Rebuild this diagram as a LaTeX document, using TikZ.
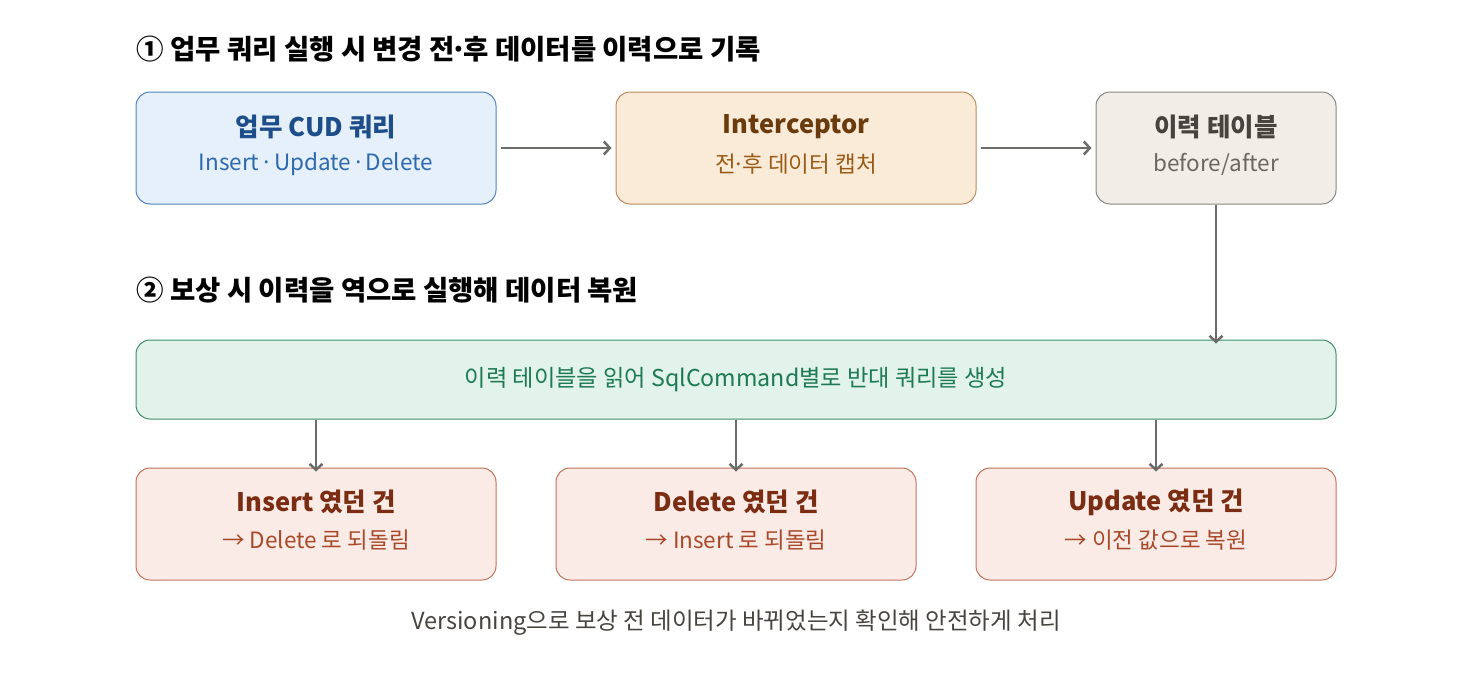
\documentclass[tikz,border=0pt]{standalone}
\usepackage{fontspec}
\setmainfont{Noto Sans CJK KR}
\usetikzlibrary{arrows.meta}

\definecolor{blueFill}{HTML}{E6F0FA}
\definecolor{blueLine}{HTML}{4F82BE}
\definecolor{blueHead}{HTML}{1D4E89}
\definecolor{blueSub}{HTML}{2C69AE}
\definecolor{orangeFill}{HTML}{FAEBD8}
\definecolor{orangeLine}{HTML}{B98A5C}
\definecolor{orangeHead}{HTML}{6A3B0C}
\definecolor{orangeSub}{HTML}{9A5B17}
\definecolor{greyFill}{HTML}{F1EEE8}
\definecolor{greyLine}{HTML}{8B877F}
\definecolor{greyHead}{HTML}{474440}
\definecolor{greySub}{HTML}{6A6660}
\definecolor{greenFill}{HTML}{E1F3EB}
\definecolor{greenLine}{HTML}{3F8C6B}
\definecolor{greenText}{HTML}{1D7A52}
\definecolor{redFill}{HTML}{FAEBE6}
\definecolor{redLine}{HTML}{C2735C}
\definecolor{redHead}{HTML}{7A2D12}
\definecolor{redSub}{HTML}{A8492A}
\definecolor{arrowGrey}{HTML}{6B6B67}

\begin{document}
\begin{tikzpicture}[x=1pt,y=-1pt,
	box/.style={draw,line width=1pt,rounded corners=14pt,minimum height=112pt,align=center,inner sep=0pt},
	flow/.style={draw=arrowGrey,line width=2.5pt,-{Straight Barb[length=6pt,width=13pt,line width=2.5pt]}},
	head/.style={font=\bfseries\fontsize{25.5}{30}\selectfont},
	sub/.style={font=\fontsize{22.5}{27}\selectfont}]
	\useasboundingbox (0,0) rectangle (1472,680);
	
	% section titles
	\node[anchor=west,font=\bfseries\fontsize{27.5}{32}\selectfont] (title1) at (133,49) {① 업무 쿼리 실행 시 변경 전\kern-4pt·\kern-4pt후 데이터를 이력으로 기록};
	\node[anchor=west,font=\bfseries\fontsize{27.5}{32}\selectfont] (title2) at (133,290) {② 보상 시 이력을 역으로 실행해 데이터 복원};
	
	% top row
	\node[box,draw=blueLine,fill=blueFill,minimum width=360pt] (query) at (316,148) {};
	\node[head,text=blueHead] at (316,127) {업무 CUD 쿼리};
	\node[sub,text=blueSub] at (316,164) {Insert\kern-4pt{} · \kern-4pt Update\kern-4pt{} · \kern-4pt Delete};
	
	\node[box,draw=orangeLine,fill=orangeFill,minimum width=360pt] (intercept) at (796,148) {};
	\node[head,text=orangeHead] at (796,127) {Interceptor};
	\node[sub,text=orangeSub] at (796,164) {전\kern-3pt·\kern-3pt후 데이터 캡처};
	
	\node[box,draw=greyLine,fill=greyFill,minimum width=240pt] (history) at (1216,148) {};
	\node[head,text=greyHead] at (1216,127) {이력 테이블};
	\node[sub,text=greySub] at (1216,164) {before/after};
	
	\draw[flow] ([xshift=4pt]query.east) -- ([xshift=-4pt]intercept.west);
	\draw[flow] ([xshift=4pt]intercept.east) -- ([xshift=-4pt]history.west);
	
	% reverse query builder
	\node[box,draw=greenLine,fill=greenFill,minimum width=1200pt,minimum height=79pt,text=greenText,font=\fontsize{23.2}{27}\selectfont] (builder) at (736,379.5) {이력 테이블을 읽어 SqlCommand별로 반대 쿼리를 생성};
	\draw[flow] (history.south) -- ([yshift=-4pt]builder.north -| history.south);
	
	% bottom row
	\node[box,draw=redLine,fill=redFill,minimum width=360pt] (undoIns) at (316,524) {};
	\node[head,text=redHead] at (316,502) {Insert 였던 건};
	\node[sub,text=redSub] at (316,540) {→ Delete 로 되돌림};
	
	\node[box,draw=redLine,fill=redFill,minimum width=360pt] (undoDel) at (736,524) {};
	\node[head,text=redHead] at (736,502) {Delete 였던 건};
	\node[sub,text=redSub] at (736,540) {→ Insert 로 되돌림};
	
	\node[box,draw=redLine,fill=redFill,minimum width=360pt] (undoUpd) at (1156,524) {};
	\node[head,text=redHead] at (1156,502) {Update 였던 건};
	\node[sub,text=redSub] at (1156,540) {→ 이전 값으로 복원};
	
	\foreach \target in {undoIns,undoDel,undoUpd}
		\draw[flow] (builder.south -| \target.north) -- ([yshift=-4pt]\target.north);
	
	\node[text=greyHead,font=\fontsize{23.5}{28}\selectfont] (note) at (736,623) {Versioning으로 보상 전 데이터가 바뀌었는지 확인해 안전하게 처리};
\end{tikzpicture}
\end{document}
